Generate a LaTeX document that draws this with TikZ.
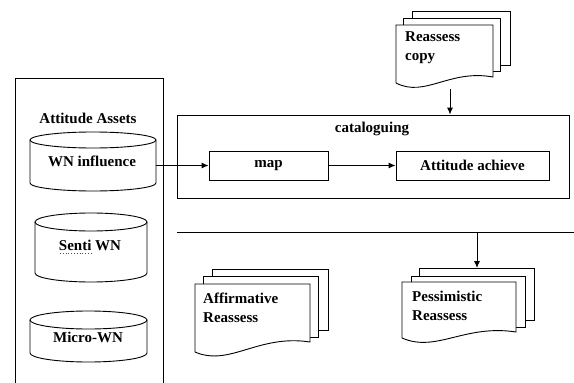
\documentclass[tikz,border=0pt]{standalone}
\usepackage{fontspec}
\setmainfont{Liberation Serif}
\usetikzlibrary{arrows.meta}
\begin{document}
\begin{tikzpicture}[x=1pt,y=-1pt,
  ln/.style={draw=black,line width=0.9pt},
  sheet/.style={draw=black,line width=0.9pt,fill=white},
  lbl/.style={font=\fontsize{15}{19}\selectfont\bfseries,inner sep=0pt},
  boxn/.style={draw=black,line width=0.9pt,inner sep=0pt},
  arr/.style={draw=black,line width=0.9pt,-{Latex[length=7pt,width=6pt]}}]
\useasboundingbox[fill=white] (0,0) rectangle (574,383);

% left panel (open at bottom)
\draw[ln] (15,390) -- (15,78) -- (163,78) -- (163,390);
\node[lbl] (assets) at (88,118) {Attitude Assets};

% cylinder A
\draw[ln] (30,140) -- (30,183) .. controls (30,187.42) and (58.21,191) .. (93,191)
  .. controls (127.79,191) and (156,187.42) .. (156,183) -- (156,140);
\draw[ln] (93,140) ellipse [x radius=63pt, y radius=8pt];
\node[lbl] (wn) at (92,161) {WN influence};
\coordinate (wnR) at (156,165.5);

% cylinder B
\draw[ln] (35,222) -- (35,273) .. controls (35,277.97) and (60.07,282) .. (91,282)
  .. controls (121.93,282) and (147,277.97) .. (147,273) -- (147,222);
\draw[ln] (91,222) ellipse [x radius=56pt, y radius=9pt];
\node[lbl] (senti) at (90,245) {Senti WN};
\draw[red,dotted,line width=0.8pt] (60,253.5) -- (91,253.5);

% cylinder C
\draw[ln] (30,320) -- (30,353) .. controls (30,357.97) and (56.19,362) .. (88.5,362)
  .. controls (120.81,362) and (147,357.97) .. (147,353) -- (147,320);
\draw[ln] (88.5,320) ellipse [x radius=58.5pt, y radius=9pt];
\node[lbl] (micro) at (88,337) {Micro-WN};

% cataloguing box
\node[boxn, minimum width=392pt, minimum height=83pt] (cat) at (373,156.5) {};
\node[lbl] (cattitle) at (372,129) {cataloguing};
\node[boxn, lbl, draw=black, line width=0.9pt, minimum width=119pt, minimum height=29pt] (map) at (268.5,165.5) {map};
\node[boxn, lbl, draw=black, line width=0.9pt, minimum width=153pt, minimum height=29pt] (ach) at (472.5,165.5) {Attitude achieve};
\draw[arr] (wnR) -- (map.west);
\draw[arr] (map.east) -- (ach.west);

% Reassess copy stack
\draw[sheet] (412,11) rectangle (510,65);
\draw[sheet] (403,18) rectangle (500,71);
\draw[sheet] (396,25) -- (493,25) -- (493,77) .. controls (449.4,69) and (425.1,98) .. (396,83) -- cycle;
\node[lbl, align=left, anchor=west] (rc) at (405,47.5) {Reassess\\copy};
\coordinate (rcout) at (450,89);
\draw[arr] (rcout) -- (rcout |- cat.north);

% separator line
\coordinate (sepL) at (177,232);
\coordinate (sepR) at (574,232);
\draw[ln] (sepL) -- (sepR);
\coordinate (sepT) at (477,232);

% Affirmative stack
\draw[sheet] (212,269) rectangle (328,330);
\draw[sheet] (203,276) rectangle (318,337);
\draw[sheet] (195,284) -- (310,284) -- (310,342) .. controls (258.25,334) and (229.5,367) .. (195,352) -- cycle;
\node[lbl, align=left, anchor=west] (aff) at (203,308) {Affirmative\\Reassess};

% Pessimistic stack
\draw[sheet] (419,268) rectangle (534,320);
\coordinate (pesTop) at (477,268);
\draw[sheet] (411,276) rectangle (525,327);
\draw[sheet] (402,282) -- (516,282) -- (516,332) .. controls (464.7,324) and (436.2,353) .. (402,338) -- cycle;
\node[lbl, align=left, anchor=west] (pes) at (412,305.5) {Pessimistic\\Reassess};
\draw[arr] (sepT) -- (pesTop);
\end{tikzpicture}
\end{document}
